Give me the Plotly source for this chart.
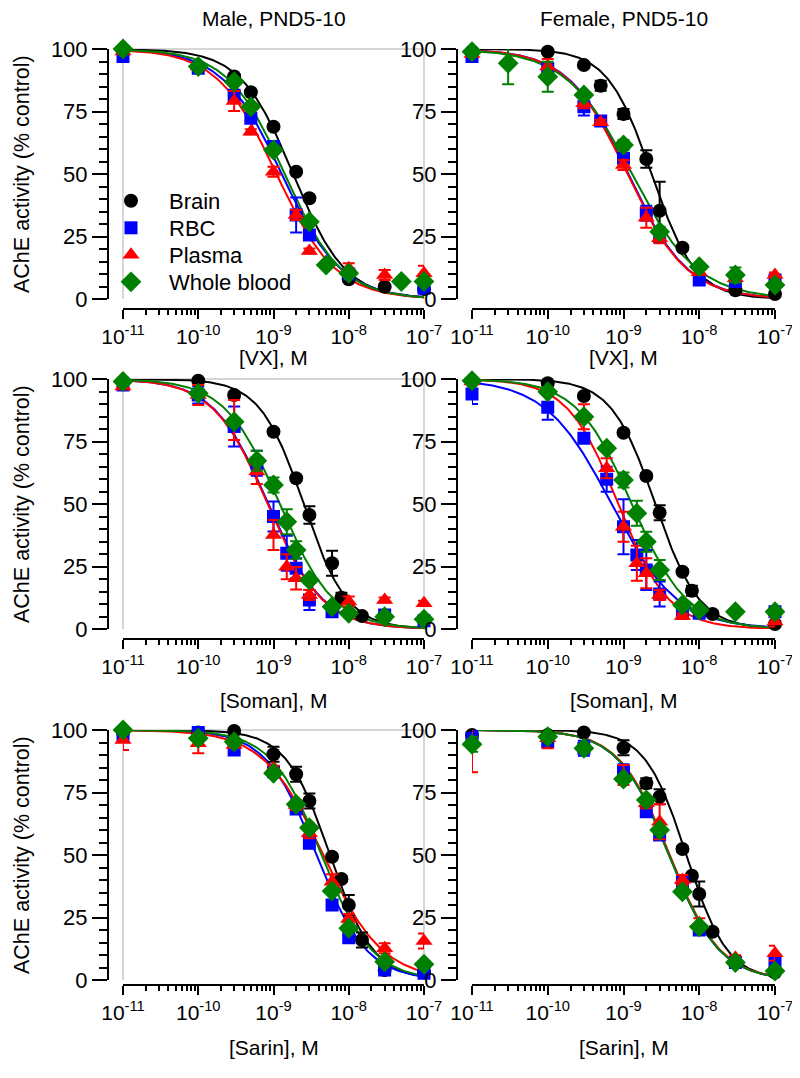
import numpy as np
import plotly.graph_objects as go

# page has an 8px body margin; the figure is sized so that it fills the 800x1078 window
PAGE_W, PAGE_H = 800, 1078
PAGE_PAD = 8
W, H = PAGE_W - PAGE_PAD, PAGE_H - PAGE_PAD
FONT = "Liberation Sans, Arial, sans-serif"

# ---------------- data ----------------
SERIES = ["Brain", "RBC", "Plasma", "Whole blood"]
COLORS = ["#000000", "#0000FF", "#FF0000", "#008000"]
SYMBOLS = ["circle", "square", "triangle-up", "diamond"]
SIZES = [14, 13, 15, 16]

# VX, male
VX_M_CONC = [1e-11, 1e-10, 3e-10, 5e-10, 1e-9, 2e-9, 3e-9, 5e-9, 1e-8, 3e-8, 5e-8, 1e-7]
VX_M_BRAIN = [99, 93, 89, 82.7, 68.9, 50.9, 40.3, None, 7.9, 4.9, None, 4]
VX_M_RBC = [97, 92.3, 81.5, 72.3, 61, 33.6, 25.6, None, 10, None, None, 4.3]
VX_M_PLASMA = [99, 93, 79.2, 66.9, 50.9, 33.6, 19.2, None, 12.3, 9.6, None, 10.3]
VX_M_WHOLE = [100, 93, 86.9, 76.9, 59.6, None, 30.9, 13.6, 10.3, None, 7, 7]
VX_M_BRAIN_ERR = [0, 0, 1, 1, 1, 1, 1, 0, 1, 0, 0, 0]
VX_M_RBC_ERR = [0, 1, 1, 1, 2, 7, 2, 0, 1, 0, 0, 1]
VX_M_PLASMA_ERR = [0, 0, 4, 1, 2, 2, 1, 0, 2, 2, 0, 3]
VX_M_WHOLE_ERR = [0, 1, 1, 1, 1, 0, 1, 1, 1, 0, 1, 1]
VX_M_LOGIC50 = [-8.74, -8.89, -8.96, -8.85]
VX_M_HILL = [1.25, 1.1, 1.1, 1.15]

# VX, female
VX_F_CONC = [1e-11, 3e-11, 1e-10, 3e-10, 5e-10, 1e-9, 2e-9, 3e-9, 6e-9, 1e-8, 3e-8, 1e-7]
VX_F_BRAIN = [99, None, 98.9, 93.6, 85.3, 74, 56, 35.3, 20.5, None, 3.5, 2]
VX_F_RBC = [97, None, 92, 76.9, 71.2, 56.3, 34.3, 24.9, None, 7.6, 7, 7.6]
VX_F_PLASMA = [98, None, 93, 78.3, 70.7, 53.6, 32.5, 24.3, None, 10.7, 8.3, 9.6]
VX_F_WHOLE = [98.9, 94.3, 88.9, 81.6, None, 61.6, None, 26.9, None, 12.9, 9.6, 5.6]
VX_F_BRAIN_ERR = [0, 0, 0, 1, 2, 2, 3.5, 11.6, 1, 0, 0, 0]
VX_F_RBC_ERR = [1, 0, 2, 3.5, 1, 2, 3, 2, 0, 1, 0, 1]
VX_F_PLASMA_ERR = [1, 0, 3, 2, 1, 2, 4, 2, 0, 1, 1, 1]
VX_F_WHOLE_ERR = [1, 8.4, 6, 1, 0, 2, 0, 2, 0, 1, 3, 1]
VX_F_LOGIC50 = [-8.63, -8.94, -8.95, -8.89]
VX_F_HILL = [1.5, 1.1, 1.1, 1.0]

# Soman, male
SO_M_CONC = [1e-11, 1e-10, 3e-10, 6e-10, 1e-9, 1.5e-9, 2e-9, 3e-9, 6e-9, 8e-9, 1e-8, 1.5e-8, 3e-8, 1e-7]
SO_M_BRAIN = [99, 99.3, 93.6, None, 78.9, None, 60.3, 45.6, 26.3, 12.5, None, 5.2, None, 3.5]
SO_M_RBC = [97.6, 93.6, 81, 66.3, 45, 30.3, 24.3, 11.6, 6.9, None, None, None, 5.6, 3.3]
SO_M_PLASMA = [97, 93.6, 83.6, 63, 37.6, 24.9, 20.3, 13.6, None, None, 11, None, 11.6, 10.3]
SO_M_WHOLE = [99, 94.3, 82.9, 67.3, 57.6, 42.9, 31.6, 19.6, 8.9, None, 6.3, None, 4.9, 3.9]
SO_M_BRAIN_ERR = [0, 0, 1, 0, 1, 0, 1, 3.5, 5, 2, 0, 1, 0, 0]
SO_M_RBC_ERR = [1, 3.4, 8, 5, 6, 7, 4, 4, 1, 0, 0, 0, 1, 1]
SO_M_PLASMA_ERR = [1, 4, 8, 5, 6, 5, 4.5, 2, 0, 0, 2, 0, 1, 1]
SO_M_WHOLE_ERR = [1, 1, 1, 4, 3, 5, 3.5, 1, 1, 0, 1, 0, 1, 1]
SO_M_LOGIC50 = [-8.6, -9.07, -9.08, -8.92]
SO_M_HILL = [1.5, 1.2, 1.2, 1.2]

# Soman, female
SO_F_CONC = [1e-11, 1e-10, 3e-10, 6e-10, 1e-9, 1.5e-9, 2e-9, 3e-9, 6e-9, 8e-9, 1e-8, 1.5e-8, 3e-8, 1e-7]
SO_F_BRAIN = [99, 98.3, 93.2, None, 78.5, None, 61.2, 46.5, 22.9, 15.3, None, 6, None, 2]
SO_F_RBC = [94, 88.7, 76.3, 59.9, 40.9, 29.6, 23.6, 14, 6.3, None, 6.3, None, None, 6.9]
SO_F_PLASMA = [99, 95.6, 84.9, 64.3, 40.9, 26.3, 22.3, 13.6, 5.2, None, None, None, None, 3]
SO_F_WHOLE = [99.3, 94.9, 84.9, 72.3, 59.6, 46.3, 34.9, 23.6, 9.6, None, 7.6, None, 6.9, 6.9]
SO_F_BRAIN_ERR = [0, 0, 1, 0, 1, 0, 1, 3, 1, 2, 0, 1, 0, 0]
SO_F_RBC_ERR = [4, 5, 1, 5, 11, 6, 8, 5, 1, 0, 1, 0, 0, 1]
SO_F_PLASMA_ERR = [1, 1, 5, 4, 6, 7, 6, 2, 1, 0, 0, 0, 0, 2]
SO_F_WHOLE_ERR = [1, 1, 1, 1, 3, 5, 4, 4, 1, 0, 1, 0, 1, 1]
SO_F_LOGIC50 = [-8.58, -9.16, -9.07, -8.89]
SO_F_HILL = [1.5, 1.0, 1.3, 1.2]

# Sarin, male
SA_M_CONC = [1e-11, 1e-10, 3e-10, 1e-9, 2e-9, 3e-9, 6e-9, 8e-9, 1e-8, 1.5e-8, 3e-8, 1e-7]
SA_M_BRAIN = [99, 99, 99.6, 90.3, 82.3, 71.6, 49.3, 40.4, 30, 16, 4, 3]
SA_M_RBC = [98, 99, 92, 83.3, 68.4, 54.7, 30, None, 16.9, None, 4, 2.7]
SA_M_PLASMA = [96, 94.7, 94, 84.7, 70, 58.7, 39.3, None, 24.4, None, 12.7, 15.6]
SA_M_WHOLE = [100, 96.7, 95.3, 82.7, 70.3, 60.9, 35.6, None, 20.7, None, 7.3, 6.3]
SA_M_BRAIN_ERR = [0, 0, 0, 3, 3, 3, 1, 1, 4, 3, 0, 0]
SA_M_RBC_ERR = [1, 0, 1, 1, 2, 2, 2, 0, 1, 0, 1, 1]
SA_M_PLASMA_ERR = [4, 4, 1, 1, 2, 2, 3, 0, 2, 0, 2, 3]
SA_M_WHOLE_ERR = [0, 1, 1, 1, 1, 1, 1, 0, 1, 0, 1, 1]
SA_M_LOGIC50 = [-8.25, -8.43, -8.34, -8.36]
SA_M_HILL = [1.5, 1.3, 1.1, 1.3]

# Sarin, female
SA_F_CONC = [1e-11, 1e-10, 3e-10, 1e-9, 2e-9, 3e-9, 6e-9, 8e-9, 1e-8, 1.5e-8, 3e-8, 1e-7]
SA_F_BRAIN = [98, 98, 99, 92.9, 78.7, 73.3, 52.4, 41.7, 34.4, 19.3, None, 3]
SA_F_RBC = [96.7, 95.3, 92.7, 83.3, 67.3, 58, 39.3, None, 20, None, 7, 7.3]
SA_F_PLASMA = [94.7, 96.7, 93.3, 82, 70.7, 63.3, 40, None, 22.7, None, 8.9, 10.7]
SA_F_WHOLE = [94.3, 97.3, 92.7, 80.4, 72, 60, 35.3, None, 21.3, None, 7, 3.6]
SA_F_BRAIN_ERR = [0, 0, 0, 3, 2, 3, 1, 1, 5, 1, 0, 0]
SA_F_RBC_ERR = [3, 2, 3, 3, 2, 2, 2, 0, 2, 0, 1, 1]
SA_F_PLASMA_ERR = [11.6, 4, 1, 4, 2, 7, 2, 0, 2, 0, 1, 3]
SA_F_WHOLE_ERR = [3, 1, 1, 1, 1, 1, 1, 0, 1, 0, 1, 1]
SA_F_LOGIC50 = [-8.17, -8.40, -8.39, -8.40]
SA_F_HILL = [1.6, 1.3, 1.3, 1.3]

X_TICKVALS = [1e-11, 1e-10, 1e-9, 1e-8, 1e-7]
X_TICKTEXT = ["10<sup>-11</sup>", "10<sup>-10</sup>", "10<sup>-9</sup>", "10<sup>-8</sup>", "10<sup>-7</sup>"]
Y_TICKVALS = [0, 25, 50, 75, 100]
COL_TITLES = ["Male, PND5-10", "Female, PND5-10"]
X_TITLES = ["[VX], M", "[Soman], M", "[Sarin], M"]
Y_TITLE = "AChE activity (% control)"

PANELS = [
    (VX_M_CONC, [VX_M_BRAIN, VX_M_RBC, VX_M_PLASMA, VX_M_WHOLE],
     [VX_M_BRAIN_ERR, VX_M_RBC_ERR, VX_M_PLASMA_ERR, VX_M_WHOLE_ERR], VX_M_LOGIC50, VX_M_HILL),
    (VX_F_CONC, [VX_F_BRAIN, VX_F_RBC, VX_F_PLASMA, VX_F_WHOLE],
     [VX_F_BRAIN_ERR, VX_F_RBC_ERR, VX_F_PLASMA_ERR, VX_F_WHOLE_ERR], VX_F_LOGIC50, VX_F_HILL),
    (SO_M_CONC, [SO_M_BRAIN, SO_M_RBC, SO_M_PLASMA, SO_M_WHOLE],
     [SO_M_BRAIN_ERR, SO_M_RBC_ERR, SO_M_PLASMA_ERR, SO_M_WHOLE_ERR], SO_M_LOGIC50, SO_M_HILL),
    (SO_F_CONC, [SO_F_BRAIN, SO_F_RBC, SO_F_PLASMA, SO_F_WHOLE],
     [SO_F_BRAIN_ERR, SO_F_RBC_ERR, SO_F_PLASMA_ERR, SO_F_WHOLE_ERR], SO_F_LOGIC50, SO_F_HILL),
    (SA_M_CONC, [SA_M_BRAIN, SA_M_RBC, SA_M_PLASMA, SA_M_WHOLE],
     [SA_M_BRAIN_ERR, SA_M_RBC_ERR, SA_M_PLASMA_ERR, SA_M_WHOLE_ERR], SA_M_LOGIC50, SA_M_HILL),
    (SA_F_CONC, [SA_F_BRAIN, SA_F_RBC, SA_F_PLASMA, SA_F_WHOLE],
     [SA_F_BRAIN_ERR, SA_F_RBC_ERR, SA_F_PLASMA_ERR, SA_F_WHOLE_ERR], SA_F_LOGIC50, SA_F_HILL),
]

# ---------------- layout geometry (page pixels) ----------------
COL_X = [(123, 424), (472, 775)]
ROW_Y = [(49, 299), (379, 629), (730, 980)]
XAXIS_Y = [309, 639, 985]
YAXIS_OFFSET = 15
XTITLE_Y = [358, 700, 1047]
TITLE_Y = 18
LEGEND_X = 93
LEGEND_Y = [201, 228, 255, 282]


def px_x(p):
    return (p - PAGE_PAD) / W


def px_y(p):
    return 1 - (p - PAGE_PAD) / H


fig = go.Figure()
layout = dict(
    width=W, height=H, margin=dict(l=0, r=0, t=0, b=0, autoexpand=False),
    paper_bgcolor="white", plot_bgcolor="rgba(0,0,0,0)",
    font=dict(family=FONT, size=21, color="black"),
    showlegend=True,
)
legend_names = ["legend", "legend2", "legend3", "legend4"]
for s in range(4):
    layout[legend_names[s]] = dict(
        x=px_x(LEGEND_X), y=px_y(LEGEND_Y[s]), xanchor="left", yanchor="middle",
        font=dict(size=22, family=FONT), bgcolor="rgba(0,0,0,0)", itemwidth=66,
        borderwidth=0)

annotations = []
shapes = []

xcurve = np.logspace(-11, -7, 241)

for i, (conc, vals, errs, logic50, hill) in enumerate(PANELS):
    r, c = divmod(i, 2)
    k = i + 1
    xa = "x" if k == 1 else f"x{k}"
    ya = "y" if k == 1 else f"y{k}"
    xk = "xaxis" if k == 1 else f"xaxis{k}"
    yk = "yaxis" if k == 1 else f"yaxis{k}"
    x0, x1 = COL_X[c]
    ytop, ybot = ROW_Y[r]

    # fitted curves
    for s in range(4):
        ycurve = 100.0 / (1.0 + 10 ** (hill[s] * (np.log10(xcurve) - logic50[s])))
        fig.add_trace(go.Scatter(x=xcurve, y=ycurve, mode="lines", xaxis=xa, yaxis=ya,
                                 line=dict(color=COLORS[s], width=2), showlegend=False,
                                 hoverinfo="skip", cliponaxis=False))
    # data points
    for s in range(4):
        fig.add_trace(go.Scatter(
            x=conc, y=vals[s], mode="markers", xaxis=xa, yaxis=ya, name=SERIES[s],
            marker=dict(symbol=SYMBOLS[s], size=SIZES[s], color=COLORS[s], line=dict(width=0)),
            error_y=dict(type="data", array=errs[s], visible=True, color=COLORS[s],
                         thickness=2, width=6),
            showlegend=(i == 0), legend=legend_names[s], cliponaxis=False))

    layout[xk] = dict(
        type="log", range=[-11, -7], domain=[px_x(x0), px_x(x1)],
        anchor="free", position=px_y(XAXIS_Y[r]), automargin=False,
        showline=True, linecolor="black", linewidth=2,
        tickmode="array", tickvals=X_TICKVALS, ticktext=X_TICKTEXT,
        ticks="outside", ticklen=9, tickwidth=2, tickcolor="black",
        tickfont=dict(size=21),
        minor=dict(tickvals=[m * 10.0 ** e for e in range(-11, -7) for m in range(2, 10)],
                   ticks="outside", ticklen=5, tickwidth=2, tickcolor="black", showgrid=False),
        showgrid=False, zeroline=False,
    )
    layout[yk] = dict(
        range=[0, 100], domain=[px_y(ybot), px_y(ytop)],
        anchor="free", position=px_x(x0 - YAXIS_OFFSET), automargin=False,
        showline=True, linecolor="black", linewidth=2,
        tickmode="array", tickvals=Y_TICKVALS,
        ticks="outside", ticklen=15, tickwidth=2, tickcolor="black",
        tickfont=dict(size=22),
        minor=dict(dtick=5, tick0=0, ticks="outside", ticklen=8, tickwidth=2,
                   tickcolor="black", showgrid=False),
        showgrid=False, zeroline=False,
    )

    if c == 0:
        # light grey frame around left panels
        for (ax0, ay0, ax1, ay1) in [(0, 0, 0, 1), (0, 1, 1, 1), (1, 1, 1, 0)]:
            shapes.append(dict(type="line", xref=f"{xa} domain", yref=f"{ya} domain",
                               x0=ax0, y0=ay0, x1=ax1, y1=ay1,
                               line=dict(color="#c8c8c8", width=1.5), layer="below"))
        annotations.append(dict(text=Y_TITLE, textangle=-90, x=px_x(22),
                                y=px_y((ytop + ybot) / 2), xref="paper", yref="paper",
                                xanchor="center", yanchor="middle",
                                showarrow=False, font=dict(size=21.5)))
    annotations.append(dict(text=X_TITLES[r], x=px_x((x0 + x1) / 2), y=px_y(XTITLE_Y[r]),
                            xref="paper", yref="paper", xanchor="center", yanchor="middle",
                            showarrow=False, font=dict(size=21)))
    if r == 0:
        annotations.append(dict(text=COL_TITLES[c], x=px_x((x0 + x1) / 2), y=px_y(TITLE_Y),
                                xref="paper", yref="paper", xanchor="center",
                                yanchor="middle", showarrow=False, font=dict(size=21)))

layout["annotations"] = annotations
layout["shapes"] = shapes
fig.update_layout(**layout)
fig.write_html("out.html")
